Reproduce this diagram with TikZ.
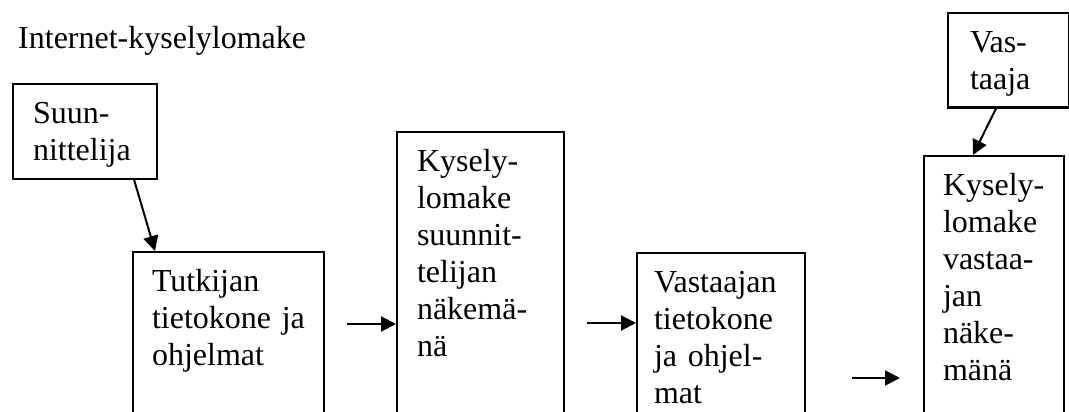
\documentclass[tikz,border=0pt]{standalone}
\usepackage{fontspec}
\setmainfont{Liberation Serif}
\usetikzlibrary{arrows.meta}
\newcommand{\diagfont}{\fontsize{32}{37}\selectfont}

\begin{document}
\begin{tikzpicture}[x=1pt, y=-1pt,
  stage/.style={draw, line width=2pt, anchor=north west, align=left,
    inner xsep=20pt, inner ysep=0pt, text height=39.5pt, font=\diagfont,
    execute at begin node={\exhyphenpenalty=10000}},
  flow/.style={line width=2pt, -{Triangle[length=15pt,width=15pt]}}]
\useasboundingbox (0,0) rectangle (1069,412);
\clip (0,0) rectangle (1069,412);

\node[anchor=base west, inner sep=0pt, font=\diagfont] (title) at (18,49) {Internet-kyselylomake};

%designer side
\node[stage, inner xsep=20pt, text width=104pt, text depth=55pt] (suun) at (12,83) {Suun-\\nittelija};
\node[stage, inner xsep=19pt, text width=153pt, text depth=200pt] (tutk) at (132,251) {Tutkijan\\tietokone ja\\ohjelmat};
\node[stage, text width=127pt, text depth=300pt] (kys1) at (396,131) {Kysely-\\lomake\\suunnit-\\telijan\\näkemä-\\nä};

%respondent side
\node[stage, inner xsep=17pt, text width=134pt, text depth=200pt] (vast) at (636,252) {Vastaajan\\tietokone\\ja ohjel-\\mat};
\node[stage, inner xsep=22pt, text width=77pt, text depth=55pt] (vaja) at (947,12) {Vas-\\taaja};
\node[stage, inner xsep=19pt, text width=102pt, text depth=300pt] (kys2) at (923,155) {Kysely-\\lomake\\vastaa-\\jan\\näke-\\mänä};

%arrows
\coordinate (a1) at (347,324);
\coordinate (a2) at (587,323);
\coordinate (a3) at (852,378);
\coordinate (a3end) at (900,378);
\draw[flow] ([xshift=-24pt]suun.south east) -- ([xshift=23pt]tutk.north west);
\draw[flow] (a1) -- (a1 -| kys1.west);
\draw[flow] (a2) -- (a2 -| vast.west);
\draw[flow] (a3) -- (a3end);
\draw[flow] ([xshift=49pt]vaja.south west) -- ([xshift=50pt]kys2.north west);
\end{tikzpicture}
\end{document}
